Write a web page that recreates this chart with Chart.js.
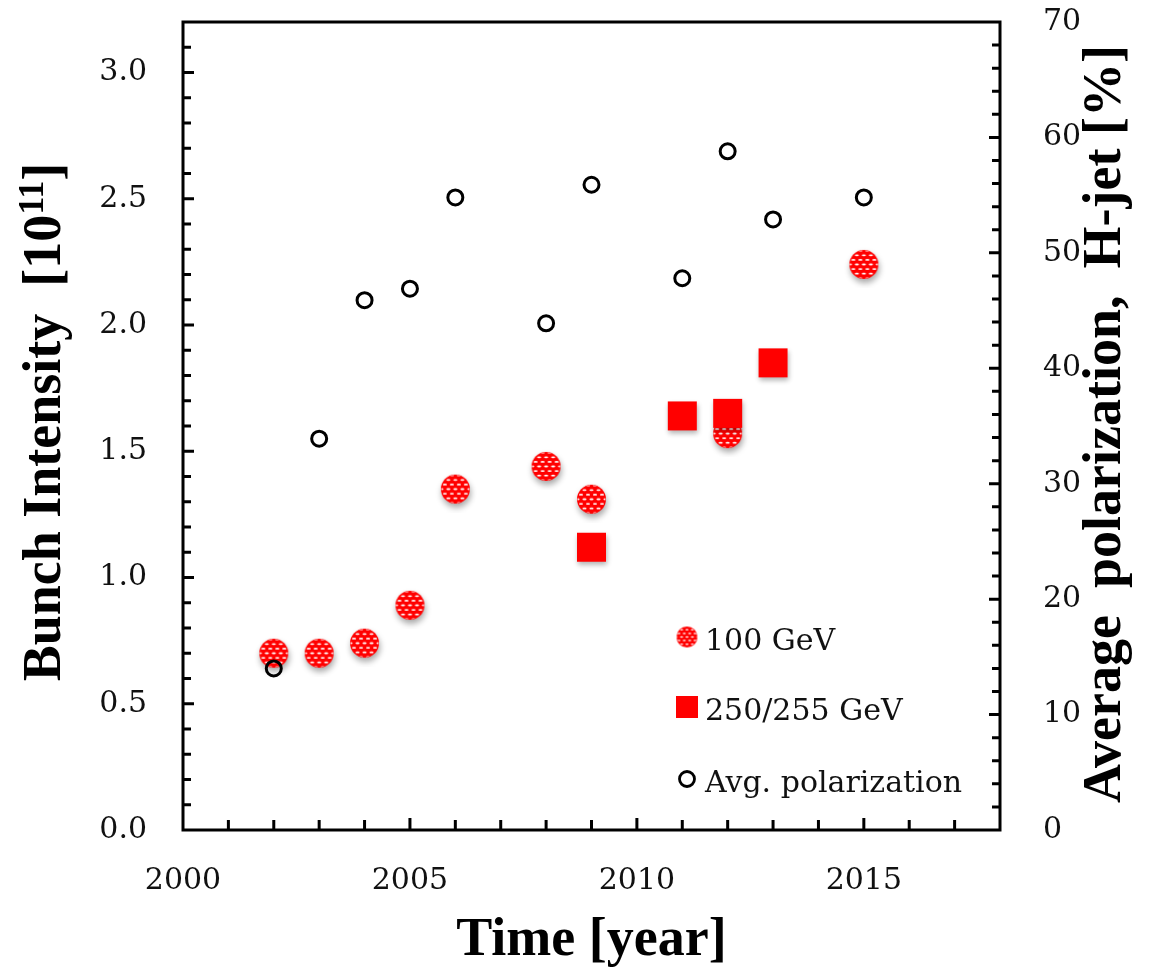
<!DOCTYPE html>
<html>
<head>
<meta charset="utf-8">
<script src="https://cdn.jsdelivr.net/npm/chart.js@4.4.1/dist/chart.umd.min.js"></script>
<style>
  html, body { margin: 0; padding: 0; background: #fff; }
  canvas { display: block; }
</style>
</head>
<body>
<canvas id="myChart" width="1149" height="969"></canvas>
<script>
// data
const years100 = [2002, 2003, 2004, 2005, 2006, 2008, 2009, 2012, 2015];
const intensity100 = [0.70, 0.70, 0.74, 0.89, 1.35, 1.44, 1.31, 1.57, 2.24];

const years250 = [2009, 2011, 2012, 2013];
const intensity250 = [1.12, 1.64, 1.65, 1.85];

const yearsPol = [2002, 2003, 2004, 2005, 2006, 2008, 2009, 2011, 2012, 2013, 2015];
const polarization = [14.0, 33.9, 45.9, 46.9, 54.8, 43.9, 55.9, 47.8, 58.8, 52.9, 54.8];

const labels = ["100 GeV", "250/255 GeV", "Avg. polarization"];
const xTitle = "Time [year]";
const yTitle = "Bunch Intensity  [10";
const yTitleSup = "11";
const y2Title = "Average  polarization,  H-jet [%]";

const RED = "#ff0000";

function toPoints(xs, ys) {
  return xs.map((x, i) => ({ x: x, y: ys[i] }));
}

// red circle with small white dashes, like the dotted fill in the original
function hatchCircle(r, shadow) {
  const pad = 9;
  const c = document.createElement("canvas");
  c.width = c.height = 2 * (r + pad);
  const g = c.getContext("2d");
  const cx = r + pad, cy = r + pad;
  g.save();
  if (shadow) {
    g.shadowColor = "rgba(0,0,0,0.35)";
    g.shadowBlur = 6;
    g.shadowOffsetX = 1;
    g.shadowOffsetY = 4;
  }
  g.fillStyle = RED;
  g.beginPath();
  g.arc(cx, cy, r, 0, Math.PI * 2);
  g.fill();
  g.restore();
  g.save();
  g.beginPath();
  g.arc(cx, cy, r - 0.5, 0, Math.PI * 2);
  g.clip();
  g.fillStyle = "#fff";
  const dy = r > 12 ? 4.6 : 3.6;
  const dx = r > 12 ? 7 : 5.4;
  for (let k = -8; k <= 8; k++) {
    const y = cy + k * dy;
    const off = (Math.abs(k) % 2) * dx / 2;
    for (let j = -6; j <= 6; j++) {
      const x = cx + j * dx + off;
      g.beginPath();
      g.ellipse(x, y, r > 12 ? 2.1 : 1.6, r > 12 ? 0.9 : 0.75, 0, 0, Math.PI * 2);
      g.fill();
    }
  }
  g.restore();
  return c;
}

function redSquare(side, shadow) {
  const pad = 9;
  const c = document.createElement("canvas");
  c.width = c.height = side + 2 * pad;
  const g = c.getContext("2d");
  if (shadow) {
    g.shadowColor = "rgba(0,0,0,0.3)";
    g.shadowBlur = 5;
    g.shadowOffsetX = 1;
    g.shadowOffsetY = 3;
  }
  g.fillStyle = RED;
  g.fillRect(pad, pad, side, side);
  return c;
}

const dotImg = hatchCircle(14.5, true);
const squareImg = redSquare(29, true);
const dotLegend = hatchCircle(10.5, false);
const squareLegend = redSquare(22, false);

// frame, inward tick marks, axis titles and the legend inside the plot
const decorations = {
  id: "decorations",
  beforeDatasetsDraw(chart) {
    const { ctx, chartArea: a, scales } = chart;
    ctx.save();
    ctx.strokeStyle = "#000";
    ctx.lineWidth = 3;
    ctx.strokeRect(a.left, a.top, a.right - a.left, a.bottom - a.top);
    ctx.beginPath();
    for (let v = 2001; v < 2018; v++) {
      const px = scales.x.getPixelForValue(v);
      const len = v % 5 === 0 ? 12 : 10;
      ctx.moveTo(px, a.bottom);
      ctx.lineTo(px, a.bottom - len);
    }
    for (let i = 1; i < 32; i++) {
      const py = scales.y.getPixelForValue(i / 10);
      const len = i % 5 === 0 ? 11 : 8;
      ctx.moveTo(a.left, py);
      ctx.lineTo(a.left + len, py);
    }
    for (let v = 2; v < 70; v += 2) {
      const py = scales.y2.getPixelForValue(v);
      const len = v % 10 === 0 ? 11 : 8;
      ctx.moveTo(a.right, py);
      ctx.lineTo(a.right - len, py);
    }
    ctx.stroke();
    ctx.restore();
  },
  afterDraw(chart) {
    const { ctx, chartArea: a } = chart;
    const big = "bold 54px 'Liberation Serif', 'Times New Roman', serif";
    const sup = "bold 36px 'Liberation Serif', 'Times New Roman', serif";
    ctx.save();
    ctx.fillStyle = "#000";
    ctx.textBaseline = "alphabetic";

    // x title
    ctx.font = big;
    ctx.textAlign = "center";
    ctx.fillText(xTitle, (a.left + a.right) / 2, 955);

    // left title with superscript
    ctx.textAlign = "left";
    ctx.font = big;
    const w1 = ctx.measureText(yTitle).width;
    const w3 = ctx.measureText("]").width;
    ctx.font = sup;
    const w2 = ctx.measureText(yTitleSup).width;
    const total = w1 + w2 + w3;
    ctx.save();
    ctx.translate(60, 422);
    ctx.rotate(-Math.PI / 2);
    ctx.font = big;
    ctx.fillText(yTitle, -total / 2, 0);
    ctx.font = sup;
    ctx.fillText(yTitleSup, -total / 2 + w1, -17);
    ctx.font = big;
    ctx.fillText("]", -total / 2 + w1 + w2, 0);
    ctx.restore();

    // right title, reading bottom to top
    ctx.save();
    ctx.translate(1120, 424);
    ctx.rotate(-Math.PI / 2);
    ctx.font = big;
    ctx.textAlign = "center";
    ctx.fillText(y2Title, 0, 0);
    ctx.restore();

    // legend
    const ds = chart.data.datasets;
    const rows = [637, 707, 779];
    ctx.font = "30px 'DejaVu Serif', serif";
    ctx.fillStyle = "#111";
    ctx.textAlign = "left";
    ds.forEach((d, i) => {
      const y = rows[i];
      const mx = 687;
      if (d.legendImage) {
        const img = d.legendImage;
        ctx.drawImage(img, mx - img.width / 2, y - img.height / 2);
      } else {
        ctx.beginPath();
        ctx.lineWidth = 2.8;
        ctx.strokeStyle = d.borderColor;
        ctx.arc(mx, y, 7.5, 0, Math.PI * 2);
        ctx.stroke();
      }
      ctx.fillText(d.label, 705, y + 13);
    });
    ctx.restore();
  }
};

const tickFont = { family: "'DejaVu Serif', serif", size: 30 };

function noPad(scale) {
  scale.paddingTop = 0;
  scale.paddingBottom = 0;
  scale.paddingLeft = 0;
  scale.paddingRight = 0;
}

new Chart(document.getElementById("myChart"), {
  type: "scatter",
  data: {
    datasets: [
      {
        label: labels[0],
        data: toPoints(years100, intensity100),
        yAxisID: "y",
        pointStyle: dotImg,
        pointRadius: 15,
        legendImage: dotLegend,
        order: 3,
      },
      {
        label: labels[1],
        data: toPoints(years250, intensity250),
        yAxisID: "y",
        pointStyle: squareImg,
        pointRadius: 15,
        legendImage: squareLegend,
        order: 2,
      },
      {
        label: labels[2],
        data: toPoints(yearsPol, polarization),
        yAxisID: "y2",
        pointStyle: "circle",
        pointRadius: 7.5,
        borderWidth: 3,
        borderColor: "#000",
        backgroundColor: "rgba(0,0,0,0)",
        order: 1,
      },
    ],
  },
  options: {
    responsive: false,
    animation: false,
    devicePixelRatio: 1,
    layout: { padding: { top: 22, left: 0, right: 0, bottom: 0 } },
    plugins: {
      legend: { display: false },
      tooltip: { enabled: false },
    },
    scales: {
      x: {
        type: "linear",
        min: 2000,
        max: 2018,
        grid: { display: false },
        border: { display: false },
        ticks: {
          stepSize: 5,
          includeBounds: false,
          padding: 25,
          maxRotation: 0,
          color: "#111",
          font: tickFont,
          callback: (v) => String(v),
        },
        afterFit: (scale) => { scale.height = 139; noPad(scale); },
      },
      y: {
        position: "left",
        min: 0,
        max: 3.2,
        grid: { display: false },
        border: { display: false },
        ticks: {
          stepSize: 0.5,
          includeBounds: false,
          padding: 28,
          color: "#111",
          font: tickFont,
          callback: (v) => v.toFixed(1),
        },
        afterFit: (scale) => { scale.width = 183; noPad(scale); },
      },
      y2: {
        position: "right",
        min: 0,
        max: 70,
        grid: { display: false },
        border: { display: false },
        ticks: {
          stepSize: 10,
          includeBounds: false,
          padding: 35,
          color: "#111",
          font: tickFont,
          callback: (v) => String(v),
        },
        afterFit: (scale) => { scale.width = 149; noPad(scale); },
      },
    },
  },
  plugins: [decorations],
});
</script>
</body>
</html>
